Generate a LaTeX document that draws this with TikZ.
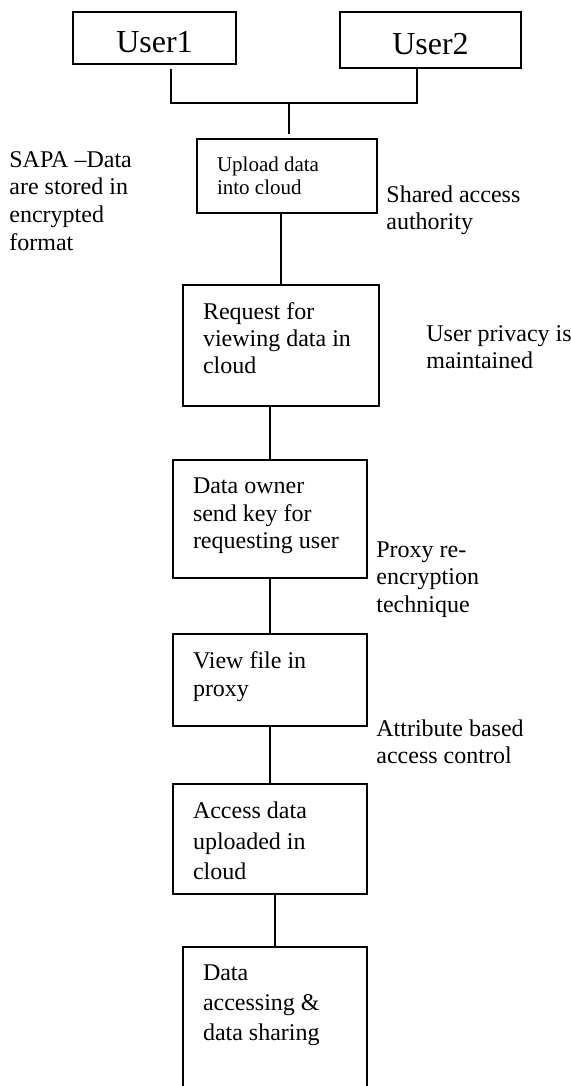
\documentclass[tikz,border=0pt]{standalone}
\usepackage{fontspec}
\setmainfont{Liberation Serif}
\usetikzlibrary{calc}

% process box: name, x, y, width, height (px), font setup, text
\newcommand\procbox[7]{%
  \node[stepbox, anchor=north west] (#1) at (#2,#3)
    {\parbox[t][\dimexpr #5pt/2-18pt\relax][t]{\dimexpr #4pt/2-20pt\relax}{#6\raggedright #7}};%
}

\begin{document}
\begin{tikzpicture}[
  x=0.5pt, y=-0.5pt,
  stepbox/.style={draw, line width=1pt, inner xsep=10pt, inner ysep=9pt},
  userbox/.style={draw, line width=1pt, inner sep=0pt, text height=14.6pt, text depth=0pt,
                  font=\fontsize{16}{19}\selectfont},
  link/.style={line width=0.9pt},
  note/.style={anchor=north west, inner sep=0pt, align=left, font=\fontsize{12}{13.8}\selectfont}
]
\useasboundingbox (0,0) rectangle (571,1086);
\fill[white] (0,0) rectangle (571,1086);
\clip (0,0) rectangle (571,1086);

% users
\node[userbox, minimum width=81.5pt, minimum height=26pt] (u1) at (154.5,38) {User1};
\node[userbox, minimum width=90.5pt, minimum height=28pt] (u2) at (430.5,40) {User2};

% process chain
\procbox{up}{196}{138}{180}{74}{\fontsize{10.5}{11.5}\selectfont}{Upload data\\into cloud}
\procbox{rq}{182}{284}{196}{121}{\fontsize{12}{13.3}\selectfont}{Request for\\viewing data in\\cloud}
\procbox{do}{172}{459}{194}{118}{\fontsize{12}{13.8}\selectfont}{Data owner\\send key for\\requesting user}
\procbox{vf}{172}{633}{194}{92}{\fontsize{12}{14}\selectfont}{View file in\\proxy}
\procbox{ac}{172}{783}{194}{110}{\fontsize{12}{15.2}\selectfont}{Access data\\uploaded in\\cloud}
\procbox{ds}{182}{946}{184}{150}{\fontsize{12}{15}\selectfont}{Data\\accessing \&\\data sharing}

% joining the two users
\coordinate (hub) at (289,103);
\draw[link] ([shift={(99,4)}]u1.south west) |- (hub) -| ([shift={(78,0)}]u2.south west);
\draw[link] (hub) -- ($(hub |- up.north)+(0,-4)$);

% chain connectors
\draw[link] (rq.north |- up.south) -- (rq.north);
\draw[link] (do.north |- rq.south) -- (do.north);
\draw[link] (do.south) -- (vf.north);
\draw[link] (vf.south) -- (ac.north);
\draw[link] (ds.north |- ac.south) -- (ds.north);

% side notes
\node[note] (n1) at (9,151) {SAPA --Data\\are stored in\\encrypted\\format};
\node[note] (n2) at (386,185) {Shared access\\authority};
\node[note] (n3) at (426,325) {User privacy is\\maintained};
\node[note] (n4) at (376,541) {Proxy re-\\encryption\\technique};
\node[note] (n5) at (376,719) {Attribute based\\access control};
\end{tikzpicture}
\end{document}
